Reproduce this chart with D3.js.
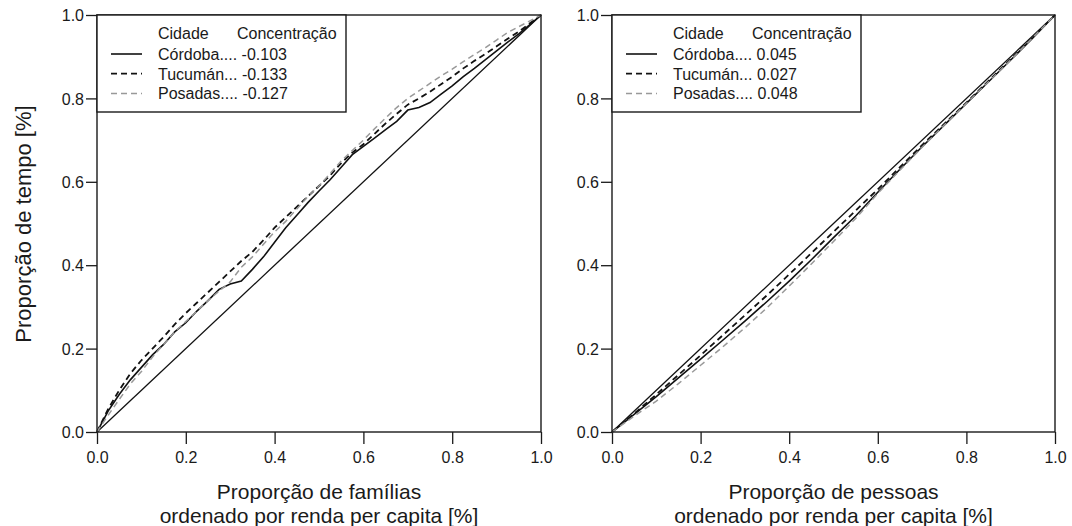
<!DOCTYPE html>
<html>
<head>
<meta charset="utf-8">
<script src="https://cdn.jsdelivr.net/npm/d3@7"></script>
<style>
  body { margin: 0; background: #fff; }
  svg text { font-family: "Liberation Sans", Arial, sans-serif; fill: #1a1a1a; }
</style>
</head>
<body>
<svg id="chart" width="1072" height="526"></svg>
<script>
// shares of families / people (x) for each panel
const xLeft = [0, 0.025, 0.05, 0.075, 0.1, 0.125, 0.15, 0.175, 0.2, 0.225, 0.25, 0.275, 0.3, 0.325, 0.35,
  0.375, 0.4, 0.425, 0.45, 0.475, 0.5, 0.525, 0.55, 0.575, 0.6, 0.625, 0.65, 0.675, 0.7, 0.725, 0.75,
  0.775, 0.8, 0.825, 0.85, 0.875, 0.9, 0.925, 0.95, 0.975, 1];
const cordobaLeft = [0, 0.05, 0.09, 0.125, 0.155, 0.185, 0.21, 0.24, 0.262, 0.29, 0.315, 0.342, 0.355, 0.362, 0.39,
  0.42, 0.455, 0.49, 0.52, 0.55, 0.578, 0.605, 0.635, 0.665, 0.685, 0.705, 0.725, 0.745, 0.772, 0.778, 0.79,
  0.81, 0.83, 0.852, 0.872, 0.893, 0.914, 0.935, 0.955, 0.977, 1];
const tucumanLeft = [0, 0.055, 0.1, 0.14, 0.172, 0.2, 0.228, 0.258, 0.285, 0.31, 0.335, 0.36, 0.385, 0.41, 0.432,
  0.46, 0.49, 0.515, 0.54, 0.565, 0.59, 0.615, 0.645, 0.67, 0.69, 0.715, 0.74, 0.763, 0.785, 0.8, 0.816,
  0.834, 0.852, 0.872, 0.89, 0.907, 0.925, 0.943, 0.96, 0.98, 1];
const posadasLeft = [0, 0.04, 0.078, 0.115, 0.145, 0.18, 0.21, 0.24, 0.265, 0.29, 0.315, 0.338, 0.36, 0.395, 0.42,
  0.45, 0.48, 0.505, 0.535, 0.565, 0.59, 0.62, 0.65, 0.675, 0.7, 0.727, 0.753, 0.778, 0.8, 0.818, 0.836,
  0.854, 0.87, 0.888, 0.905, 0.922, 0.94, 0.958, 0.972, 0.986, 1];

const xRight = [0, 0.05, 0.1, 0.15, 0.2, 0.25, 0.3, 0.35, 0.4, 0.45, 0.5, 0.55, 0.6, 0.65, 0.7, 0.75, 0.8, 0.85, 0.9, 0.95, 1];
const cordobaRight = [0, 0.042, 0.085, 0.13, 0.175, 0.22, 0.266, 0.313, 0.362, 0.413, 0.466, 0.518, 0.575, 0.63, 0.684, 0.736, 0.788, 0.84, 0.892, 0.945, 1];
const tucumanRight = [0, 0.044, 0.09, 0.137, 0.184, 0.232, 0.28, 0.328, 0.378, 0.429, 0.48, 0.531, 0.582, 0.635, 0.688, 0.739, 0.79, 0.842, 0.894, 0.947, 1];
const posadasRight = [0, 0.038, 0.074, 0.116, 0.16, 0.204, 0.25, 0.298, 0.35, 0.403, 0.457, 0.512, 0.572, 0.628, 0.683, 0.736, 0.788, 0.84, 0.892, 0.946, 1];

const cities = ["Córdoba....", "Tucumán...", "Posadas...."];
const concLeft = ["-0.103", "-0.133", "-0.127"];
const concRight = ["0.045", "0.027", "0.048"];
const ticks = [0, 0.2, 0.4, 0.6, 0.8, 1.0];
const yTitle = "Proporção de tempo [%]";
const xTitlesLeft = ["Proporção de famílias", "ordenado por renda per capita [%]"];
const xTitlesRight = ["Proporção de pessoas", "ordenado por renda per capita [%]"];

const styles = [
  { stroke: "#111", dash: null, width: 1.6 },
  { stroke: "#111", dash: "6,4", width: 1.8 },
  { stroke: "#999", dash: "6,4", width: 1.5 }
];

const svg = d3.select("#chart");

function panel(left, top, w, h, xs, series, conc, xTitles) {
  const x = d3.scaleLinear().domain([0, 1]).range([left, left + w]);
  const y = d3.scaleLinear().domain([0, 1]).range([top + h, top]);
  const g = svg.append("g");

  const xAxis = g.append("g")
    .attr("transform", `translate(0,${top + h})`)
    .call(d3.axisBottom(x).tickValues(ticks).tickFormat(d3.format(".1f")).tickSize(12).tickPadding(8));
  const yAxis = g.append("g")
    .attr("transform", `translate(${left},0)`)
    .call(d3.axisLeft(y).tickValues(ticks).tickFormat(d3.format(".1f")).tickSize(11).tickPadding(2));
  [xAxis, yAxis].forEach(a => {
    a.select(".domain").remove();
    a.selectAll("line").attr("stroke", "#1a1a1a").attr("stroke-width", 1.3);
    a.selectAll("text").style("font-size", "16px").attr("fill", "#1a1a1a");
  });
  yAxis.selectAll("text").attr("dy", "0.36em");

  // diagonal (line of equality)
  g.append("line")
    .attr("x1", x(0)).attr("y1", y(0)).attr("x2", x(1)).attr("y2", y(1))
    .attr("stroke", "#111").attr("stroke-width", 1.3);

  const line = d3.line().x((d, i) => x(xs[i])).y(d => y(d));
  series.forEach((s, i) => {
    g.append("path")
      .datum(s)
      .attr("d", line)
      .attr("fill", "none")
      .attr("stroke", styles[i].stroke)
      .attr("stroke-width", styles[i].width)
      .attr("stroke-dasharray", styles[i].dash);
  });

  g.append("rect")
    .attr("x", left).attr("y", top).attr("width", w).attr("height", h)
    .attr("fill", "none").attr("stroke", "#1a1a1a").attr("stroke-width", 1.4);

  // legend
  const lg = g.append("g").attr("transform", `translate(${left},${top})`);
  lg.append("rect")
    .attr("x", 0).attr("y", 0).attr("width", 249).attr("height", 97)
    .attr("fill", "#fff").attr("stroke", "#1a1a1a").attr("stroke-width", 1.4);
  lg.append("text").attr("x", 61).attr("y", 24).style("font-size", "16px").text("Cidade");
  lg.append("text").attr("x", 140).attr("y", 24).style("font-size", "16px").text("Concentração");
  cities.forEach((c, i) => {
    const by = 45 + i * 19.7;
    lg.append("line")
      .attr("x1", 14).attr("x2", 45).attr("y1", by - 6).attr("y2", by - 6)
      .attr("stroke", styles[i].stroke)
      .attr("stroke-width", styles[i].width)
      .attr("stroke-dasharray", styles[i].dash);
    lg.append("text").attr("x", 61).attr("y", by).style("font-size", "16px").text(c + " " + conc[i]);
  });

  xTitles.forEach((t, i) => {
    g.append("text")
      .attr("x", left + w / 2).attr("y", top + h + 67 + i * 24)
      .attr("text-anchor", "middle").style("font-size", "21px").text(t);
  });
  return { x, y };
}

panel(97, 15, 444, 417, xLeft, [cordobaLeft, tucumanLeft, posadasLeft], concLeft, xTitlesLeft);
panel(612, 15, 443, 417, xRight, [cordobaRight, tucumanRight, posadasRight], concRight, xTitlesRight);

svg.append("text")
  .attr("transform", "translate(31,224) rotate(-90)")
  .attr("text-anchor", "middle").style("font-size", "22px").text(yTitle);
</script>
</body>
</html>
